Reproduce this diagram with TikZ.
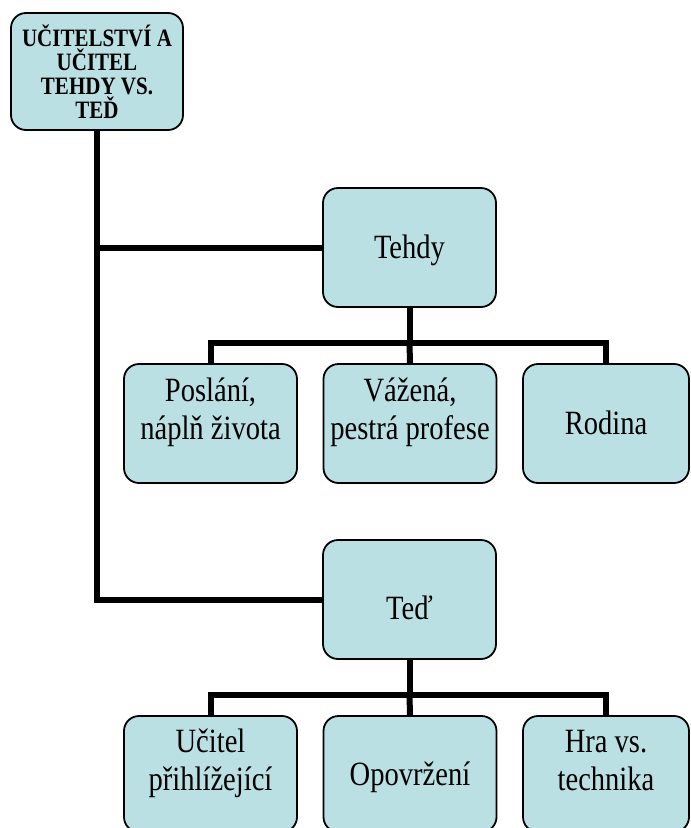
\documentclass[tikz,border=0pt]{standalone}
\usepackage{fontspec}
\setmainfont{Liberation Serif}
\newfontfamily\boxfont[FakeStretch=0.84]{Liberation Serif}
\definecolor{boxblue}{RGB}{187,224,227}

\begin{document}
\begin{tikzpicture}[x=1pt, y=-1pt,
	box/.style={draw=black, line width=1.8pt, fill=boxblue, rounded corners=15pt,
		align=center, inner sep=0pt, minimum width=173pt, minimum height=119pt,
		font=\boxfont\fontsize{34}{38}\selectfont},
	kid/.style={box, text height=30pt, text depth=8pt},
	twoline/.style={kid, text height=40pt},
	link/.style={line width=6pt}]
	\useasboundingbox (0,0) rectangle (691,828);
	%boxes
	\node[box, minimum width=172pt, minimum height=117pt,
		font=\boxfont\fontsize{25}{24}\selectfont\bfseries] (root) at (97,71.5)
		{UČITELSTVÍ A\\UČITEL\\TEHDY VS.\\TEĎ};
	\node[kid] (tehdy) at (409.5,247.5) {Tehdy};
	\node[box, text height=46pt, text depth=6pt] (ted) at (409.5,599.5) {Teď};
	%first row
	\node[twoline] (poslani) at (210.5,423.5) {Poslání,\\náplň života};
	\node[twoline] (vazena) at (410,423.5) {Vážená,\\pestrá profese};
	\node[kid, minimum width=166pt] (rodina) at (606,423.5) {Rodina};
	%second row
	\node[twoline, minimum height=116pt] (ucitel) at (210.5,774) {Učitel\\přihlížející};
	\node[kid, minimum height=116pt] (opovrzeni) at (410,774) {Opovržení};
	\node[twoline, minimum height=116pt, minimum width=166pt] (hra) at (606,774) {Hra vs.\\technika};
	%lines
	\draw[link] (root.south) |- (ted.west);
	\draw[link] (root.south |- tehdy.west) -- (tehdy.west);
	\foreach \top/\a/\b/\c in {tehdy/poslani/vazena/rodina, ted/ucitel/opovrzeni/hra}
	{
		\draw[link] (\top.south) -- ++(0,35) coordinate (bus);
		\draw[link] (\a.north) |- (bus) -| (\c.north);
		\draw[link] (bus) -- (\b.north);
	}
\end{tikzpicture}
\end{document}
